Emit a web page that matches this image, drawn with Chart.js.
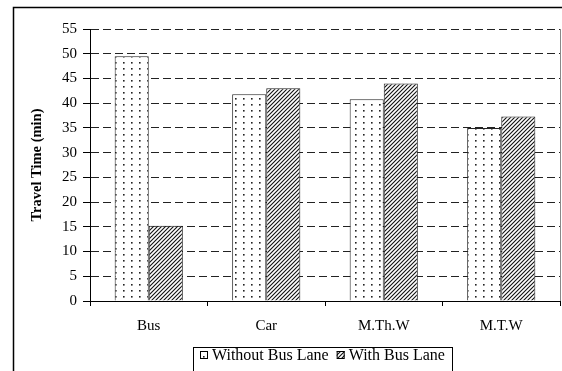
<!DOCTYPE html>
<html>
<head>
<meta charset="utf-8">
<script src="https://cdn.jsdelivr.net/npm/chart.js@4"></script>
<style>
body { margin: 0; background: #fff; }
</style>
</head>
<body>
<canvas id="myChart" width="562" height="371"></canvas>
<script>
const categories = ['Bus', 'Car', 'M.Th.W', 'M.T.W'];
const withoutBusLane = [49.5, 41.8, 40.8, 35.0];
const withBusLane = [15.2, 43.0, 44.0, 37.3];
const seriesNames = ['Without Bus Lane', 'With Bus Lane'];
const yMin = 0;
const yMax = 55;
const yStep = 5;

const FONT = '"Liberation Serif", "Times New Roman", serif';

// dotted fill
function dotPattern() {
    const c = document.createElement('canvas');
    c.width = 8;
    c.height = 6;
    const g = c.getContext('2d');
    g.fillStyle = '#fff';
    g.fillRect(0, 0, 8, 6);
    g.fillStyle = '#222';
    g.fillRect(3, 2, 1.6, 1.6);
    return g.createPattern(c, 'repeat');
}

// diagonal hatch fill
function hatchPattern() {
    const c = document.createElement('canvas');
    c.width = 4;
    c.height = 4;
    const g = c.getContext('2d');
    g.fillStyle = '#fff';
    g.fillRect(0, 0, 4, 4);
    g.strokeStyle = '#111';
    g.lineWidth = 1.1;
    g.beginPath();
    g.moveTo(0, 4); g.lineTo(4, 0);
    g.moveTo(-1, 1); g.lineTo(1, -1);
    g.moveTo(3, 5); g.lineTo(5, 3);
    g.stroke();
    return g.createPattern(c, 'repeat');
}

const framePlugin = {
    id: 'frame',
    afterDraw(chart) {
        const ctx = chart.ctx;
        const area = chart.chartArea;
        ctx.save();
        // outer frame (cropped at right and bottom)
        ctx.strokeStyle = '#000';
        ctx.lineWidth = 1.5;
        ctx.strokeRect(13.5, 7.5, 700, 500);
        // plot area right edge
        ctx.strokeStyle = '#888';
        ctx.lineWidth = 1;
        ctx.beginPath();
        ctx.moveTo(Math.round(area.right) + 0.5, area.top);
        ctx.lineTo(Math.round(area.right) + 0.5, area.bottom);
        ctx.stroke();

        // legend
        ctx.font = '16px ' + FONT;
        ctx.textBaseline = 'middle';
        ctx.textAlign = 'left';
        const y = 355;
        let x = 200;
        ctx.strokeStyle = '#000';
        ctx.strokeRect(193.5, 347.5, 259, 40);
        chart.data.datasets.forEach(ds => {
            ctx.fillStyle = ds.backgroundColor;
            ctx.fillRect(x, y - 4, 8, 8);
            ctx.strokeStyle = '#000';
            ctx.strokeRect(x + 0.5, y - 3.5, 7, 7);
            ctx.fillStyle = '#000';
            ctx.fillText(ds.label, x + 12, y + 1);
            x += 12 + ctx.measureText(ds.label).width + 8;
        });
        ctx.restore();
    }
};

const ctx = document.getElementById('myChart').getContext('2d');

let myChart = new Chart(ctx, {
    type: 'bar',
    data: {
        labels: categories,
        datasets: [{
            label: seriesNames[0],
            data: withoutBusLane,
            backgroundColor: dotPattern(),
            borderColor: '#222',
            borderWidth: 1,
            categoryPercentage: 0.58,
            barPercentage: 1
        }, {
            label: seriesNames[1],
            data: withBusLane,
            backgroundColor: hatchPattern(),
            borderColor: '#222',
            borderWidth: 1,
            categoryPercentage: 0.58,
            barPercentage: 1
        }]
    },
    options: {
        responsive: false,
        animation: false,
        layout: {
            padding: { left: 24, right: 2, top: 29, bottom: 33 }
        },
        plugins: {
            legend: { display: false },
            tooltip: { enabled: false }
        },
        scales: {
            x: {
                grid: {
                    display: true,
                    drawOnChartArea: false,
                    drawTicks: true,
                    tickLength: 5,
                    color: '#000',
                    offset: true
                },
                border: { display: true, color: '#000', width: 1 },
                ticks: {
                    color: '#000',
                    padding: 11,
                    font: { family: FONT, size: 15 }
                },
                afterFit(scale) {
                    scale.height = 37;
                }
            },
            y: {
                min: yMin,
                max: yMax,
                ticks: {
                    stepSize: yStep,
                    color: '#000',
                    padding: 6,
                    font: { family: FONT, size: 15 }
                },
                grid: {
                    color: '#222',
                    lineWidth: 1,
                    tickLength: 7,
                    tickColor: '#000'
                },
                border: { display: true, color: '#000', width: 1, dash: [8, 4] },
                title: {
                    display: true,
                    text: 'Travel Time (min)',
                    color: '#000',
                    font: { family: FONT, size: 14.5, weight: 'bold' },
                    padding: { top: 5, bottom: 0 }
                },
                afterFit(scale) {
                    scale.width = 66;
                }
            }
        }
    },
    plugins: [framePlugin]
});
</script>
</body>
</html>
